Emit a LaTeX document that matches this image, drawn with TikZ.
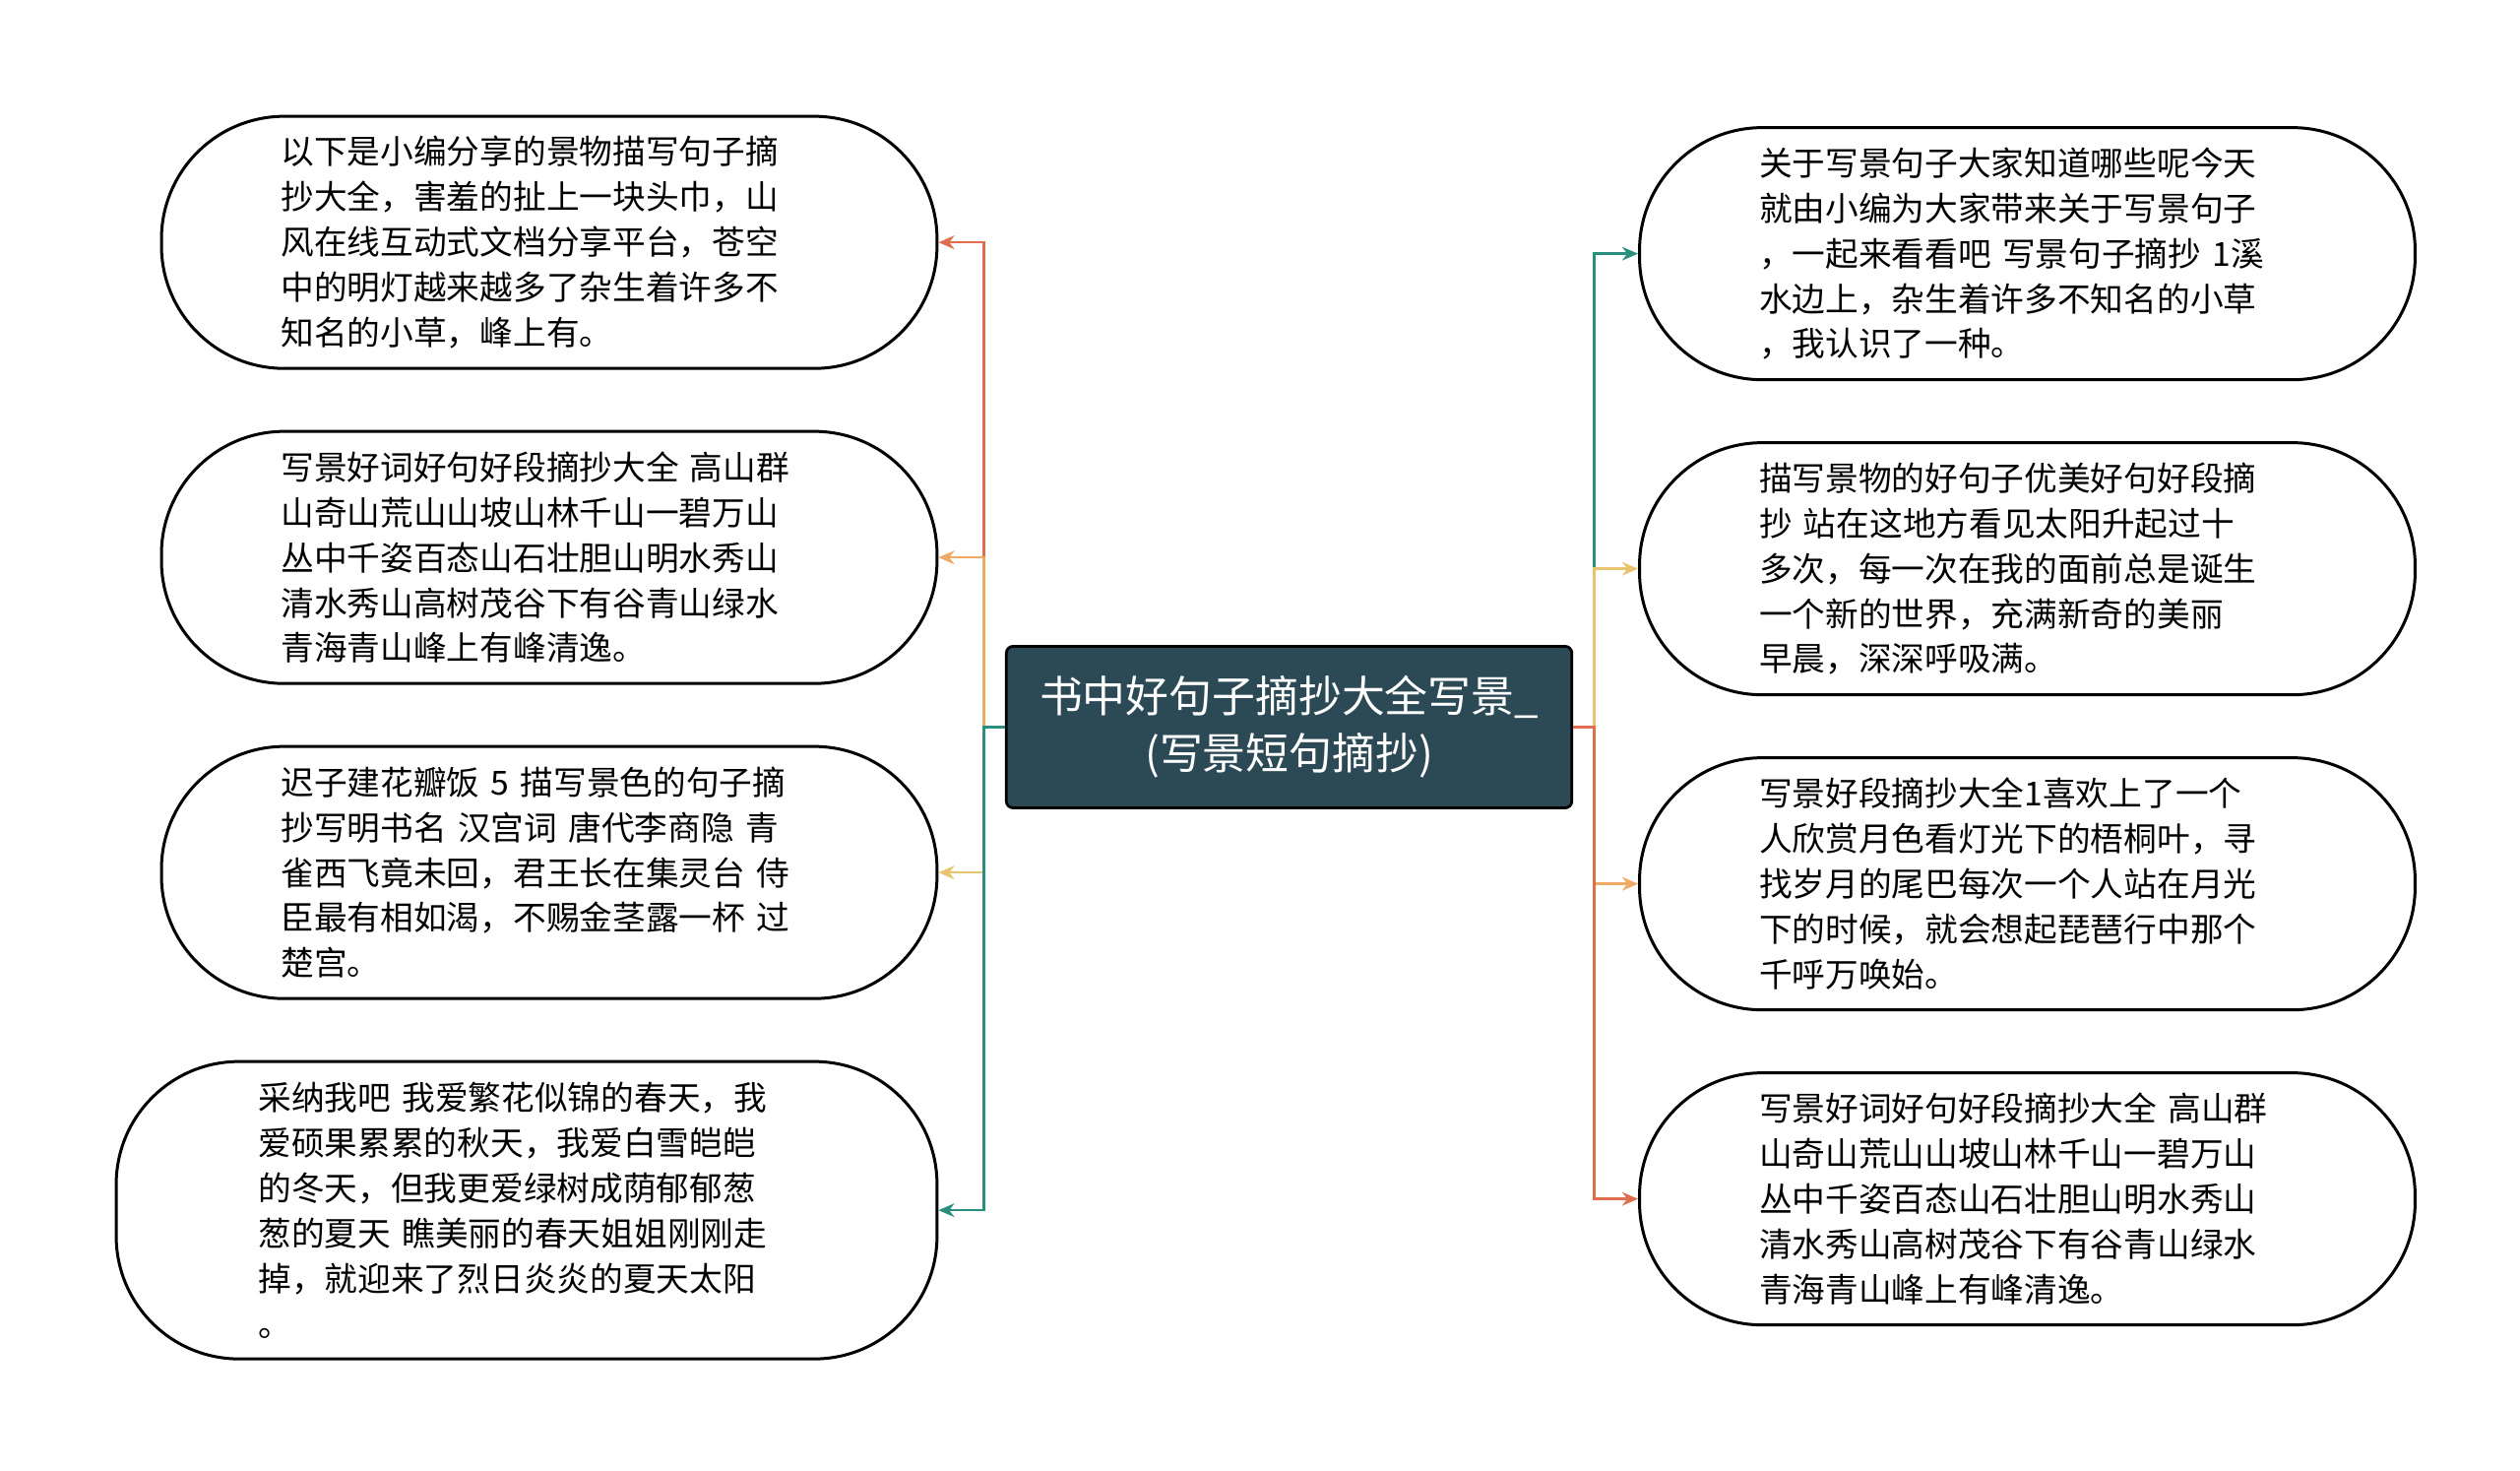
\documentclass[tikz,border=0pt]{standalone}
\usepackage{fontspec}
\setmainfont{Noto Sans CJK SC}
\usetikzlibrary{positioning,arrows.meta}
\definecolor{rootfill}{HTML}{2C4A56}
\definecolor{linered}{HTML}{DE6E4E}
\definecolor{lineorange}{HTML}{EFAA66}
\definecolor{lineyellow}{HTML}{E8C46E}
\definecolor{lineteal}{HTML}{2A8E7E}
\tikzset{
  leaf/.style={draw, line width=1.3pt, rounded corners=1.9cm, minimum width=12cm,
    minimum height=3.9cm, text width=8.3cm, align=left,
    font=\fontsize{14.6}{19.9}\selectfont},
  root/.style={draw, line width=1.2pt, fill=rootfill, text=white, rounded corners=3pt,
    minimum width=8.75cm, minimum height=2.5cm, align=center,
    font=\fontsize{19}{25}\selectfont},
  link/.style={line width=1.1pt, -{Stealth[length=7pt,width=6pt]}}
}
\begin{document}
\begin{tikzpicture}[x=0.025cm,y=-0.025cm]
  \useasboundingbox (0,0) rectangle (1560,910);
  \node[root] (root) at (798,450) {书中好句子摘抄大全写景\_\\(写景短句摘抄)};
%
  \node[leaf] (l1) at (340,150) {以下是小编分享的景物描写句子摘\\抄大全，害羞的扯上一块头巾，山\\风在线互动式文档分享平台，苍空\\中的明灯越来越多了杂生着许多不\\知名的小草，峰上有。};
  \node[leaf] (l2) at (340,345) {写景好词好句好段摘抄大全 高山群\\山奇山荒山山坡山林千山一碧万山\\丛中千姿百态山石壮胆山明水秀山\\清水秀山高树茂谷下有谷青山绿水\\青海青山峰上有峰清逸。};
  \node[leaf] (l3) at (340,540) {迟子建花瓣饭 5 描写景色的句子摘\\抄写明书名 汉宫词 唐代李商隐 青\\雀西飞竟未回，君王长在集灵台 侍\\臣最有相如渴，不赐金茎露一杯 过\\楚宫。};
  \node[leaf, minimum width=12.7cm, minimum height=4.6cm] (l4) at (326,749) {采纳我吧 我爱繁花似锦的春天，我\\爱硕果累累的秋天，我爱白雪皑皑\\的冬天，但我更爱绿树成荫郁郁葱\\葱的夏天 瞧美丽的春天姐姐刚刚走\\掉，就迎来了烈日炎炎的夏天太阳\\。};
%
  \node[leaf] (r1) at (1255,157) {关于写景句子大家知道哪些呢今天\\就由小编为大家带来关于写景句子\\，一起来看看吧 写景句子摘抄 1溪\\水边上，杂生着许多不知名的小草\\，我认识了一种。};
  \node[leaf] (r2) at (1255,352) {描写景物的好句子优美好句好段摘\\抄 站在这地方看见太阳升起过十\\多次，每一次在我的面前总是诞生\\一个新的世界，充满新奇的美丽\\早晨，深深呼吸满。};
  \node[leaf] (r3) at (1255,547) {写景好段摘抄大全1喜欢上了一个\\人欣赏月色看灯光下的梧桐叶，寻\\找岁月的尾巴每次一个人站在月光\\下的时候，就会想起琵琶行中那个\\千呼万唤始。};
  \node[leaf] (r4) at (1255,742) {写景好词好句好段摘抄大全 高山群\\山奇山荒山山坡山林千山一碧万山\\丛中千姿百态山石壮胆山明水秀山\\清水秀山高树茂谷下有谷青山绿水\\青海青山峰上有峰清逸。};
%
  \draw[link, linered] (root.west) -- ++(-13,0) |- (l1.east);
  \draw[link, lineorange] (root.west) -- ++(-13,0) |- (l2.east);
  \draw[link, lineyellow] (root.west) -- ++(-13,0) |- (l3.east);
  \draw[link, lineteal] (root.west) -- ++(-13,0) |- (l4.east);
  \draw[link, lineteal] (root.east) -- ++(13,0) |- (r1.west);
  \draw[link, lineyellow] (root.east) -- ++(13,0) |- (r2.west);
  \draw[link, lineorange] (root.east) -- ++(13,0) |- (r3.west);
  \draw[link, linered] (root.east) -- ++(13,0) |- (r4.west);
\end{tikzpicture}
\end{document}
